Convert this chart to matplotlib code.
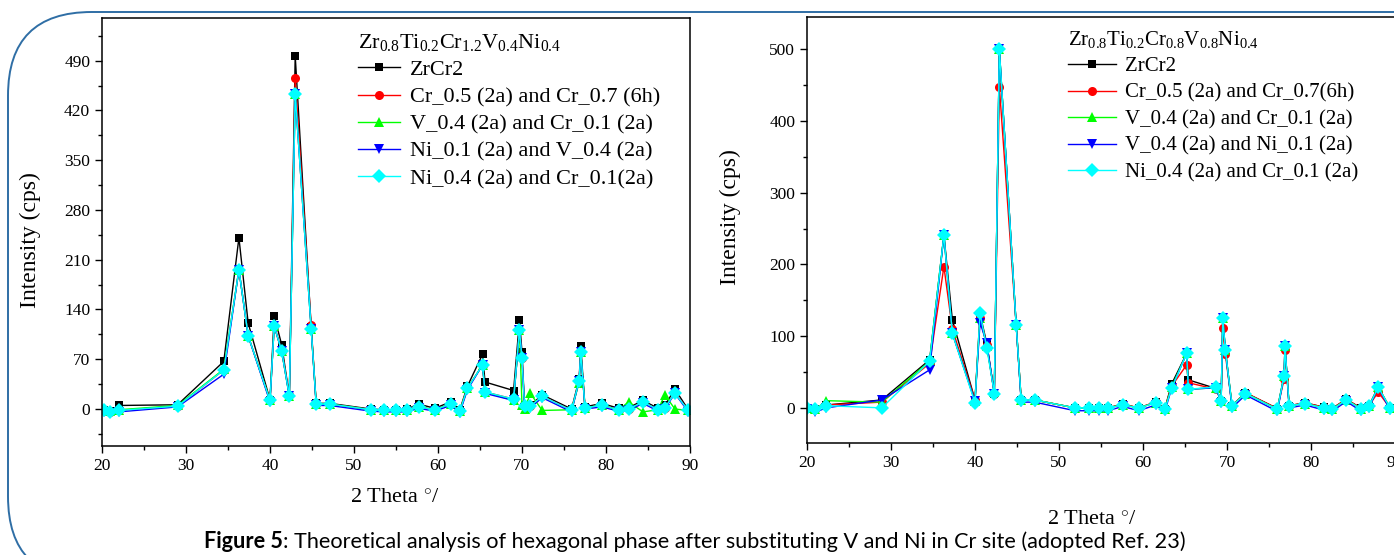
import matplotlib
matplotlib.use("Agg")
import matplotlib.pyplot as plt
from matplotlib.patches import FancyBboxPatch
from matplotlib.ticker import MultipleLocator

plt.rcParams['font.family'] = ['Liberation Serif', 'DejaVu Serif']
plt.rcParams['mathtext.fontset'] = 'custom'
plt.rcParams['mathtext.rm'] = 'Liberation Serif'
plt.rcParams['mathtext.it'] = 'Liberation Serif:italic'

# ---------------- data: left panel ----------------
x_left = [20.2, 21.0, 22.0, 29.0, 34.5, 36.3, 37.4, 40.0, 40.5, 41.4, 42.3, 43.0, 44.9, 45.5, 47.1,
          52.0, 53.6, 55.0, 56.3, 57.7, 59.6, 61.5, 62.6, 63.5, 65.3, 65.6, 69.0, 69.7, 70.0, 70.3,
          71.0, 72.4, 75.9, 76.8, 77.0, 77.5, 79.5, 81.5, 82.7, 84.4, 86.2, 87.0, 88.2, 89.8]
zrcr2_left = [-1, -3, 5, 6, 67, 241, 121, 13, 131, 90, 18, 497, 115, 8, 8,
              0, -1, -1, 0, 7, 1, 10, -1, 32, 77, 38, 26, 125, 80, 5,
              5, 20, 0, 42, 88, 3, 8, 1, 2, 12, 1, 5, 28, -1]
cr_left = [-2, -4, -2, 4, 55, 196, 103, 12, 117, 81, 20, 465, 118, 7, 7,
           -1, -2, -2, -2, 3, -1, 7, -3, 29, 62, 24, 14, 111, 72, 4,
           4, 18, -2, 40, 80, 2, 5, -1, 0, 10, -1, 2, 22, -2]
v_left = [-1, -3, -1, 5, 56, 196, 103, 12, 117, 81, 18, 443, 113, 7, 7,
          -1, -2, -2, -2, 3, -1, 7, -3, 29, 62, 24, 12, 111, 5, 0,
          22, -2, -1, 37, 80, 2, 5, -1, 10, -4, -1, 20, 0, -2]
ni01_left = [-4, -6, -4, 3, 49, 196, 103, 10, 117, 81, 18, 443, 113, 5, 5,
             -3, -4, -4, -4, 1, -3, 5, -5, 27, 62, 22, 12, 111, 72, 2,
             2, 16, -4, 40, 80, 0, 3, -3, -2, 8, -3, 0, 22, -4]
ni04_left = [-2, -4, -2, 4, 55, 196, 103, 12, 117, 81, 18, 443, 113, 7, 7,
             -1, -2, -2, -2, 3, -1, 7, -3, 29, 62, 24, 14, 111, 72, 4,
             4, 18, -2, 40, 80, 2, 5, -1, 0, 10, -1, 2, 22, -2]
labels_left = ["ZrCr2", "Cr_0.5 (2a) and Cr_0.7 (6h)", "V_0.4 (2a) and Cr_0.1 (2a)",
               "Ni_0.1 (2a) and V_0.4 (2a)", "Ni_0.4 (2a) and Cr_0.1(2a)"]
title_left = r"Zr$_{\mathregular{0.8}}$Ti$_{\mathregular{0.2}}$Cr$_{\mathregular{1.2}}$V$_{\mathregular{0.4}}$Ni$_{\mathregular{0.4}}$"
yticks_left = [0, 70, 140, 210, 280, 350, 420, 490]

# ---------------- data: right panel ----------------
x_right = [20.0, 21.0, 22.3, 28.9, 34.6, 36.3, 37.3, 40.0, 40.6, 41.4, 42.3, 42.9, 44.9, 45.5, 47.1,
           51.9, 53.6, 54.8, 55.8, 57.6, 59.5, 61.5, 62.6, 63.4, 65.2, 65.4, 68.7, 69.3, 69.5, 69.8,
           70.6, 72.2, 76.0, 76.8, 76.9, 77.4, 79.3, 81.5, 82.5, 84.2, 85.9, 86.9, 88.0, 89.4]
zrcr2_right = [0, -2, 4, 11, 67, 241, 123, 11, 131, 90, 20, 499, 116, 11, 11,
               0, 0, 0, 0, 5, 0, 8, -1, 33, 76, 39, 27, 10, 125, 81,
               3, 21, -1, 45, 86, 3, 7, 1, -1, 12, 0, 3, 29, 0]
cr_right = [0, -2, 4, 8, 62, 197, 110, 11, 125, 88, 20, 448, 116, 11, 11,
            0, 0, 0, 0, 5, 0, 8, -1, 30, 60, 35, 26, 9, 111, 75,
            3, 21, -1, 40, 81, 3, 7, 1, -1, 12, 0, 3, 22, 0]
v_right = [0, -2, 10, 8, 65, 241, 104, 9, 125, 86, 22, 500, 116, 11, 11,
           0, 0, 0, 0, 4, 0, 7, -2, 29, 76, 26, 28, 9, 125, 81,
           3, 20, -2, 45, 86, 3, 6, 0, -2, 11, -1, 2, 29, 0]
ni01_right = [-2, -6, 0, 11, 53, 241, 104, 9, 119, 90, 20, 500, 116, 8, 8,
              -4, -4, -4, -4, 2, -4, 4, -5, 27, 76, 26, 28, 7, 125, 81,
              0, 18, -5, 45, 86, 0, 4, -3, -5, 9, -4, 0, 29, -3]
ni04_right = [0, -2, 3, 0, 65, 241, 104, 7, 132, 84, 20, 500, 116, 11, 11,
              0, 0, 0, 0, 4, 0, 7, -2, 27, 76, 26, 29, 9, 125, 81,
              3, 20, -2, 45, 86, 3, 6, 0, -2, 11, -1, 2, 29, 0]
labels_right = ["ZrCr2", "Cr_0.5 (2a) and Cr_0.7(6h)", "V_0.4 (2a) and Cr_0.1 (2a)",
                "V_0.4 (2a) and Ni_0.1 (2a)", "Ni_0.4 (2a) and Cr_0.1 (2a)"]
title_right = r"Zr$_{\mathregular{0.8}}$Ti$_{\mathregular{0.2}}$Cr$_{\mathregular{0.8}}$V$_{\mathregular{0.8}}$Ni$_{\mathregular{0.4}}$"
yticks_right = [0, 100, 200, 300, 400, 500]

xticks = [20, 30, 40, 50, 60, 70, 80, 90]
caption_bold = "Figure 5"
caption_rest = ": Theoretical analysis of hexagonal phase after substituting V and Ni in Cr site (adopted Ref. 23)"

# ---------------- styling ----------------
colors = ["#000000", "#ff0000", "#00ff00", "#0000ff", "#00ffff"]
markers = ["s", "o", "^", "v", "D"]
msizes = [6, 6.5, 7.5, 7.5, 7]

W, H = 1394, 555
fig = plt.figure(figsize=(W / 100, H / 100), dpi=100)

# rounded frame
frame = FancyBboxPatch((8 / W, 1 - 580 / H), 1500 / W, (580 - 12) / H,
                       boxstyle="round,pad=0,rounding_size=0.06",
                       transform=fig.transFigure, fill=False,
                       edgecolor="#2f6ea5", linewidth=1.4, mutation_aspect=W / H)
fig.patches.append(frame)


def px_axes(x0, y_top, x1, y_bot):
    return [x0 / W, 1 - y_bot / H, (x1 - x0) / W, (y_bot - y_top) / H]


def draw_panel(ax, x, series, labels, title, yticks, ylim, ymajor, leg_xy, handlelen, legfs, spacing):
    for vals, c, m, ms, lab in zip(series, colors, markers, msizes, labels):
        ax.plot(x, vals, color=c, marker=m, markersize=ms, linewidth=1.0,
                markeredgewidth=0, label=lab)
    ax.set_xlim(20, 90)
    ax.set_ylim(*ylim)
    ax.set_xticks(xticks)
    ax.set_yticks(yticks)
    ax.xaxis.set_minor_locator(MultipleLocator(5))
    ax.yaxis.set_minor_locator(MultipleLocator(ymajor / 2))
    ax.tick_params(which="major", direction="out", length=5, width=1.0, labelsize=12.5,
                   top=False, right=False)
    ax.tick_params(which="minor", direction="out", length=3, width=1.0, top=False, right=False)
    for s in ax.spines.values():
        s.set_linewidth(1.1)
    ax.legend(loc="upper left", bbox_to_anchor=(leg_xy[0] / W, 1 - leg_xy[1] / H),
              bbox_transform=fig.transFigure, frameon=False, fontsize=legfs,
              title=title, title_fontsize=legfs, alignment="left",
              borderpad=0, borderaxespad=0, handlelength=handlelen,
              handletextpad=0.45, labelspacing=spacing, markerscale=1.0)


ax1 = fig.add_axes(px_axes(102, 18, 690, 446))
draw_panel(ax1, x_left, [zrcr2_left, cr_left, v_left, ni01_left, ni04_left],
           labels_left, title_left, yticks_left, (-52, 550), 70, (358, 32), 1.9, 16, 0.3)

ax2 = fig.add_axes(px_axes(807, 17, 1395, 443))
draw_panel(ax2, x_right, [zrcr2_right, cr_right, v_right, ni01_right, ni04_right],
           labels_right, title_right, yticks_right, (-49, 545), 100, (1068, 29), 2.3, 15, 0.33)

# axis labels
fig.text(30 / W, 1 - 240 / H, "Intensity (cps)", rotation=90, ha="center", va="center", fontsize=17)
fig.text(730 / W, 1 - 217 / H, "Intensity (cps)", rotation=90, ha="center", va="center", fontsize=17)
fig.text(395 / W, 1 - 497 / H, r"2 Theta $^{\circ}$/", ha="center", va="center", fontsize=16)
fig.text(1092 / W, 1 - 519 / H, r"2 Theta $^{\circ}$/", ha="center", va="center", fontsize=16)

# caption: bold part followed by regular part
cap_family = ["Lato", "DejaVu Sans"]
cap_fs = 15.6
t1 = fig.text(204 / W, 1 - 541 / H, caption_bold, ha="left", va="center", fontsize=cap_fs,
              fontweight="bold", family=cap_family)
ax1.annotate(caption_rest, xy=(1, 0), xycoords=t1, xytext=(0, 0), textcoords="offset points",
             ha="left", va="bottom", fontsize=cap_fs, family=cap_family,
             annotation_clip=False)

fig.savefig("out.png", dpi=100)
